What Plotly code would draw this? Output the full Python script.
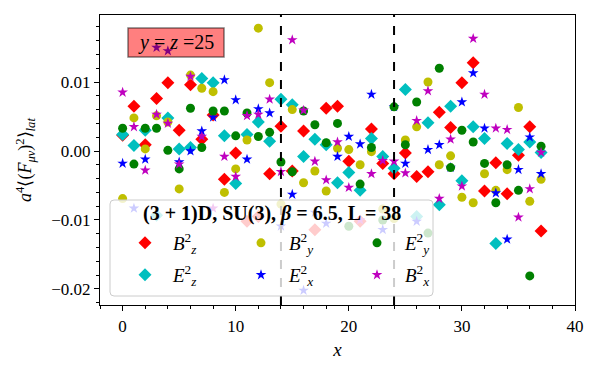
import plotly.graph_objects as go

# lattice sites along x
sites = list(range(38))

# field components
bz = [0.0023, 0.0065, 0.0009, 0.0076, 0.0099, 0.0030, 0.0096, 0.0017, 0.0052, -0.0041,
      -0.0003, -0.0102, -0.0095, -0.0033, 0.0036, -0.0029, 0.0029, -0.0114, 0.0062, 0.0065,
      -0.0015, -0.0102, 0.0032, -0.0018, -0.0033, -0.0003, -0.0037, -0.0030, 0.0056, 0.0034,
      0.0099, 0.0128, -0.0058, -0.0017, -0.0062, -0.0006, 0.0035, -0.0116]
ez = [0.0024, 0.0008, 0.0030, -0.0093, 0.0048, 0.0003, 0.0005, 0.0105, 0.0099, 0.0022,
      -0.0047, 0.0024, 0.0042, 0.0014, 0.0075, 0.0067, -0.0008, 0.0017, 0.0009, -0.0046,
      -0.0031, -0.0057, 0.0018, -0.0008, -0.0025, 0.0089, -0.0095, 0.0041, -0.0078, 0.0065,
      -0.0043, 0.0035, 0.0018, -0.0134, 0.0011, 0.0002, 0.0013, -0.0002]
by = [-0.0069, 0.0048, 0.0003, 0.0051, 0.0042, -0.0055, 0.0110, 0.0091, 0.0086, -0.0060,
      -0.0026, 0.0016, 0.0178, 0.0099, -0.0077, 0.0060, -0.0046, -0.0029, -0.0058, 0.0004,
      0.0002, -0.0020, -0.0001, -0.0084, -0.0098, 0.0016, 0.0035, 0.0100, -0.0020, -0.0007,
      -0.0067, -0.0075, -0.0033, -0.0057, -0.0027, 0.0063, -0.0073, -0.0041]
ex = [-0.0018, -0.0083, -0.0012, 0.0150, 0.0145, -0.0016, 0.0000, 0.0029, 0.0049, 0.0103,
      0.0074, -0.0012, 0.0061, 0.0055, -0.0109, -0.0063, -0.0202, -0.0089, -0.0105, -0.0008,
      0.0021, 0.0010, 0.0082, -0.0114, 0.0064, -0.0018, -0.0102, 0.0002, 0.0009, -0.0024,
      0.0071, 0.0113, 0.0033, -0.0061, -0.0128, -0.0027, 0.0020, -0.0033]
ey = [0.0033, -0.0019, 0.0033, 0.0033, 0.0001, -0.0026, 0.0062, 0.0005, 0.0058, 0.0058,
      0.0022, 0.0055, 0.0021, 0.0027, -0.0016, -0.0030, 0.0058, 0.0038, 0.0012, 0.0040,
      -0.0109, -0.0048, 0.0005, -0.0100, 0.0064, 0.0009, 0.0071, -0.0119, 0.0120, -0.0024,
      0.0030, 0.0013, -0.0018, -0.0075, -0.0020, -0.0057, -0.0181, 0.0007]
bx = [0.0085, 0.0035, -0.0028, 0.0053, 0.0040, -0.0019, 0.0108, 0.0021, -0.0083, -0.0008,
      -0.0037, 0.0051, 0.0053, 0.0075, -0.0030, 0.0161, 0.0059, -0.0015, -0.0042, 0.0013,
      -0.0053, -0.0100, -0.0033, -0.0014, -0.0015, -0.0032, 0.0044, 0.0087, -0.0069, 0.0017,
      -0.0051, 0.0163, 0.0082, 0.0033, 0.0031, -0.0096, -0.0055, -0.0002]

# region boundaries
walls = [14, 24]

SERIF = "Liberation Serif"

# (name, values, colour, symbol, size, legend, rank) in drawing order
series = [
    ("<i>B</i><sup>2</sup><sub><i>z</i></sub>", bz, "#ff0000", "diamond", 10, "legend", 1),
    ("<i>E</i><sup>2</sup><sub><i>z</i></sub>", ez, "#00bfbf", "diamond", 10, "legend2", 1),
    ("<i>B</i><sup>2</sup><sub><i>y</i></sub>", by, "#bfbf00", "circle", 9, "legend", 2),
    ("<i>E</i><sup>2</sup><sub><i>x</i></sub>", ex, "#0000ff", "star", 8, "legend2", 2),
    ("<i>E</i><sup>2</sup><sub><i>y</i></sub>", ey, "#008000", "circle", 9, "legend", 3),
    ("<i>B</i><sup>2</sup><sub><i>x</i></sub>", bx, "#bf00bf", "star", 8, "legend2", 3),
]

fig = go.Figure()
for name, vals, color, symbol, size, leg, rank in series:
    fig.add_trace(go.Scatter(
        x=sites, y=vals, mode="markers", name=name,
        marker={"color": color, "symbol": symbol, "size": size, "line": {"width": 0}},
        legend=leg, legendrank=rank,
    ))

for w in walls:
    fig.add_vline(x=w, line={"color": "black", "width": 2, "dash": "dash"})


# the page body adds 8px, so the figure is a bit smaller; these map
# screen pixels of the plot area to paper coordinates
def px_x(p):
    return (p - 100) / 475


def px_y(p):
    return (305 - p) / 290


# legend frame (drawn as a shape so both legend rows share it)
x0, x1, y0, y1 = px_x(110), px_x(433), px_y(296), px_y(200)
rx, ry = 4 / 475, 4 / 290
path = (f"M {x0 + rx} {y0} L {x1 - rx} {y0} Q {x1} {y0} {x1} {y0 + ry} "
        f"L {x1} {y1 - ry} Q {x1} {y1} {x1 - rx} {y1} "
        f"L {x0 + rx} {y1} Q {x0} {y1} {x0} {y1 - ry} "
        f"L {x0} {y0 + ry} Q {x0} {y0} {x0 + rx} {y0} Z")
fig.add_shape(type="path", path=path, xref="paper", yref="paper",
              fillcolor="rgba(255,255,255,0.8)", line={"color": "#cccccc", "width": 1},
              layer="above")

# translucent label box, above the markers
fig.add_shape(type="rect", xref="paper", yref="paper",
              x0=px_x(128), x1=px_x(224), y0=px_y(57), y1=px_y(28),
              fillcolor="rgba(255,0,0,0.5)", line={"color": "rgba(0,0,0,0.5)", "width": 1.5},
              layer="above")
fig.add_annotation(
    x=px_x(176), y=px_y(42.5), xref="paper", yref="paper",
    xanchor="center", yanchor="middle",
    text="<i>y</i> = <i>z</i> =25", showarrow=False,
    font={"family": SERIF, "size": 20, "color": "black"},
)

# legend title
fig.add_annotation(
    x=px_x(272), y=px_y(214), xref="paper", yref="paper",
    xanchor="center", yanchor="middle",
    text="<b>(3 + 1)D, SU(3), <i>β</i> = 6.5, L = 38</b>", showarrow=False,
    font={"family": SERIF, "size": 20, "color": "black"},
)

legend_common = {
    "orientation": "h", "xanchor": "left", "yanchor": "top",
    "bgcolor": "rgba(0,0,0,0)", "borderwidth": 0,
    "font": {"family": SERIF, "size": 19, "color": "black"},
    "itemwidth": 46, "entrywidth": 55, "itemclick": False,
}

fig.update_layout(
    width=592, height=362,
    margin={"l": 92, "r": 25, "t": 7, "b": 65},
    plot_bgcolor="white", paper_bgcolor="white",
    font={"family": SERIF, "size": 17, "color": "black"},
    legend={**legend_common, "x": px_x(117), "y": px_y(224)},
    legend2={**legend_common, "x": px_x(117), "y": px_y(256)},
    showlegend=True,
)

fig.update_xaxes(
    range=[-2, 40], tickvals=[0, 10, 20, 30, 40], ticks="outside", ticklen=5,
    tickcolor="black", showline=True, linecolor="black", linewidth=1.2, mirror=True,
    showgrid=False, zeroline=False,
    minor={"dtick": 2, "tick0": 0, "ticks": "outside", "ticklen": 3, "tickcolor": "black"},
    title={"text": "<i>x</i>", "font": {"size": 19}, "standoff": 8},
    tickfont={"size": 17},
)
fig.update_yaxes(
    range=[-0.02232, 0.01971], tickvals=[-0.02, -0.01, 0.0, 0.01],
    ticktext=["\u22120.02", "\u22120.01", "0.00", "0.01"],
    ticks="outside", ticklen=5, tickcolor="black",
    showline=True, linecolor="black", linewidth=1.2, mirror=True,
    showgrid=False, zeroline=False,
    minor={"dtick": 0.002, "tick0": 0, "ticks": "outside", "ticklen": 3, "tickcolor": "black"},
    title={"text": "<i>a</i><sup>4</sup>\u27e8(<i>F</i><sub><i>\u03bc\u03bd</i></sub>)<sup>2</sup>\u27e9<sub><i>lat</i></sub>",
           "font": {"size": 18}, "standoff": 14},
    tickfont={"size": 17},
)

fig.write_html("out.html")
